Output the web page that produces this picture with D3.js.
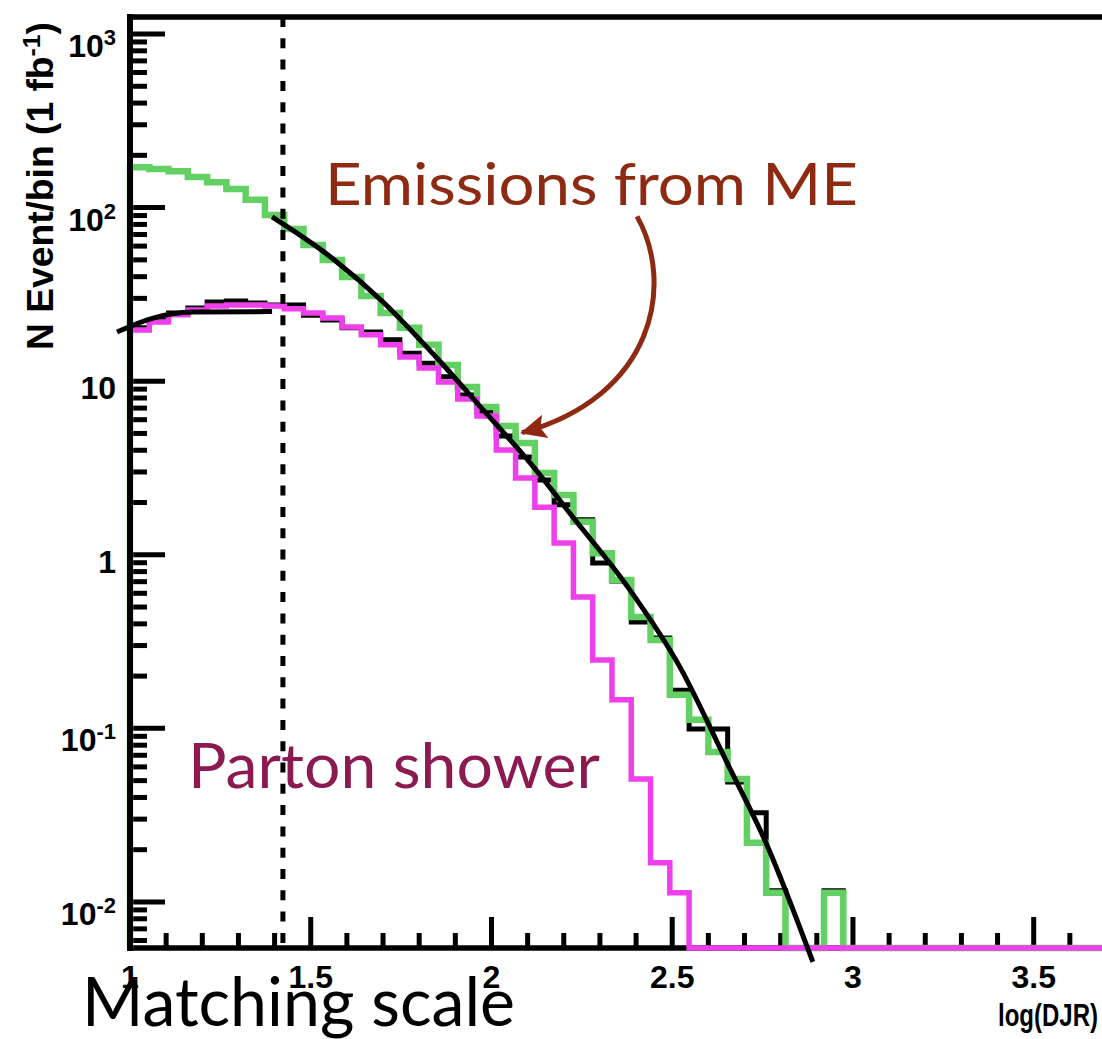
<!DOCTYPE html>
<html>
<head>
<meta charset="utf-8">
<script src="https://cdn.jsdelivr.net/npm/d3@7"></script>
<style>
  body { margin: 0; background: #fff; }
  svg { display: block; }
</style>
</head>
<body>
<script>
// ---- binning of the log(DJR) histograms ----
const binStart = 1.0;
const binWidth = 4 / 75;

// total sample (black histogram), events per bin
const combined = [
  20.3, 22.5, 24.7, 26.4, 28.6, 29.0, 28.2, 27.5, 27.5, 24.0,
  22.5, 20.3, 19.2, 17.3, 14.5, 12.7, 10.6, 8.33, 6.65, 4.83,
  3.66, 2.70, 1.94, 1.59, 0.897, 0.707, 0.410, 0.332, 0.166, 0.0992,
  0.0992, 0.0491, 0.0326, 0.0116, 0, 0, 0.0116, 0, 0, 0,
  0, 0, 0, 0, 0, 0, 0, 0, 0, 0, 0
];

// emissions from the matrix element (green histogram)
const meEmissions = [
  171, 167, 162, 150, 140, 128, 111, 90.7, 75.3, 60.9,
  49.9, 39.8, 31.0, 24.7, 20.3, 16.2, 12.4, 9.26, 7.10, 5.52,
  4.41, 2.96, 2.21, 1.55, 1.02, 0.716, 0.438, 0.323, 0.156, 0.112,
  0.0731, 0.0511, 0.0219, 0.0113, 0, 0, 0.0113, 0, 0, 0,
  0, 0, 0, 0, 0, 0, 0, 0, 0, 0, 0
];

// emissions from the parton shower (magenta histogram)
const partonShower = [
  19.7, 21.9, 24.1, 25.7, 27.1, 27.5, 27.5, 27.1, 26.1, 24.7,
  23.1, 20.5, 18.5, 16.2, 13.8, 11.9, 9.89, 7.90, 6.30, 4.02,
  2.77, 1.88, 1.17, 0.571, 0.248, 0.146, 0.0511, 0.0168, 0.0113, 0,
  0, 0, 0, 0, 0, 0, 0, 0, 0, 0,
  0, 0, 0, 0, 0, 0, 0, 0, 0, 0, 0
];

// smooth curves: [log(DJR), events/bin]
const lowFit = [[0.964, 19.2], [1.064, 23.1], [1.174, 25.0], [1.393, 25.2]];
const highFit = [
  [1.393, 88.3], [1.562, 50.6], [1.700, 28.6], [1.849, 13.6], [1.977, 6.83],
  [2.107, 3.38], [2.225, 1.65], [2.375, 0.661], [2.521, 0.226], [2.652, 0.0632],
  [2.762, 0.0213], [2.889, 0.00451]
];

const matchingScale = 1.423;

// axis ticks and labels
const xMajorTicks = [1, 1.5, 2, 2.5, 3, 3.5];
const xTickLabels = ["1", "1.5", "2", "2.5", "3", "3.5"];
const yDecades = [1e-2, 1e-1, 1, 10, 1e2, 1e3];
const yTickBase = ["10", "10", "1", "10", "10", "10"];
const yTickExp = ["-2", "-1", "", "", "2", "3"];

// annotation arrow, in data coordinates [log(DJR), events/bin]
const arrowPts = [[2.4025, 89.0], [2.5076, 36.4], [2.4523, 8.16], [2.0844, 5.05]];

const W = 1102, H = 1039;
const svg = d3.select("body").append("svg").attr("width", W).attr("height", H);

const x = d3.scaleLinear().domain([1, 3.7]).range([130, 1106]);
const y = d3.scaleLog().domain([0.00543, 1253]).range([948, 17]);
const yFloor = y.domain()[0];
const [plotBottom, plotTop] = y.range();
const plotLeft = x.range()[0];

const axisFont = "'Liberation Sans', Arial, Helvetica, sans-serif";
const annoFont = "Lato, 'Open Sans', sans-serif";

// ---- frame: top and bottom edges (histograms are drawn over the bottom edge) ----
const frame = svg.append("g").attr("stroke", "#000").attr("stroke-width", 5.5).attr("stroke-linecap", "square");
frame.append("line").attr("x1", plotLeft).attr("x2", W + 10).attr("y1", plotTop).attr("y2", plotTop);
frame.append("line").attr("x1", plotLeft).attr("x2", W + 10).attr("y1", plotBottom).attr("y2", plotBottom);

// ---- ticks (pointing into the frame) ----
const ticks = svg.append("g").attr("stroke", "#000").attr("stroke-width", 5);
const xMinor = d3.range(11, 38).map(d => d / 10).filter(v => !xMajorTicks.some(m => Math.abs(m - v) < 1e-9));
ticks.selectAll(".xmaj").data(xMajorTicks).join("line")
  .attr("x1", d => x(d)).attr("x2", d => x(d)).attr("y1", plotBottom).attr("y2", plotBottom - 31);
ticks.selectAll(".xmin").data(xMinor).join("line")
  .attr("x1", d => x(d)).attr("x2", d => x(d)).attr("y1", plotBottom).attr("y2", plotBottom - 15);

const yMinor = [];
for (let e = -3; e <= 3; e++) for (let m = 2; m <= 9; m++) {
  const v = m * Math.pow(10, e);
  if (v > yFloor && v < y.domain()[1]) yMinor.push(v);
}
ticks.selectAll(".ymaj").data(yDecades).join("line")
  .attr("x1", plotLeft).attr("x2", plotLeft + 35).attr("y1", d => y(d)).attr("y2", d => y(d));
ticks.selectAll(".ymin").data(yMinor).join("line")
  .attr("x1", plotLeft).attr("x2", plotLeft + 17).attr("y1", d => y(d)).attr("y2", d => y(d));

// ---- tick labels ----
const yLab = svg.append("g").attr("font-family", axisFont).attr("font-weight", "bold").attr("fill", "#000");
yDecades.forEach((v, i) => {
  const hasExp = yTickExp[i] !== "";
  const t = yLab.append("text")
    .attr("x", 116).attr("y", y(v) + (hasExp ? 23 : 18))
    .attr("text-anchor", "end").attr("font-size", 32);
  t.append("tspan").text(yTickBase[i]);
  if (hasExp) t.append("tspan").attr("font-size", 22).attr("dy", -12).text(yTickExp[i]);
});

const xLab = svg.append("g").attr("font-family", axisFont).attr("font-weight", "bold").attr("fill", "#000");
xLab.selectAll("text").data(xMajorTicks).join("text")
  .attr("x", d => x(d)).attr("y", 988).attr("text-anchor", "middle").attr("font-size", 32)
  .text((d, i) => xTickLabels[i]);
xLab.append("text").attr("x", 1098).attr("y", 1026).attr("text-anchor", "end")
  .attr("font-size", 31).attr("textLength", 100).attr("lengthAdjust", "spacingAndGlyphs")
  .text("log(DJR)");

// y-axis title
const yTitle = svg.append("text")
  .attr("transform", "translate(53,350) rotate(-90)")
  .attr("font-family", axisFont).attr("font-weight", "bold").attr("font-size", 36)
  .attr("textLength", 328).attr("lengthAdjust", "spacingAndGlyphs").attr("fill", "#000");
yTitle.append("tspan").text("N Event/bin (1 fb");
yTitle.append("tspan").attr("font-size", 24).attr("dy", -13).text("-1");
yTitle.append("tspan").attr("dy", 13).text(")");

// ---- histograms ----
function stepPoints(values) {
  const pts = [[binStart, yFloor]];
  values.forEach((v, i) => {
    const lo = binStart + i * binWidth, hi = lo + binWidth;
    const vv = v > 0 ? v : yFloor;
    pts.push([lo, vv], [hi, vv]);
  });
  return pts;
}
const stepLine = d3.line().x(d => x(d[0])).y(d => y(Math.max(d[1], yFloor)));

const hists = svg.append("g").attr("fill", "none").attr("stroke-linejoin", "miter");
hists.append("path").attr("d", stepLine(stepPoints(combined))).attr("stroke", "#000").attr("stroke-width", 5);
hists.append("path").attr("d", stepLine(stepPoints(meEmissions))).attr("stroke", "#62d062").attr("stroke-width", 6.5);
hists.append("path").attr("d", stepLine(stepPoints(partonShower))).attr("stroke", "#ee40ea").attr("stroke-width", 5.5);

// left edge of the frame, over the first histogram edges
svg.append("line").attr("x1", plotLeft).attr("x2", plotLeft).attr("y1", plotTop).attr("y2", plotBottom)
  .attr("stroke", "#000").attr("stroke-width", 6).attr("stroke-linecap", "square");

// ---- smooth curves ----
const fitLine = d3.line().x(d => x(d[0])).y(d => y(d[1])).curve(d3.curveMonotoneX);
const fits = svg.append("g").attr("fill", "none").attr("stroke", "#000").attr("stroke-width", 5);
fits.append("path").attr("d", fitLine(lowFit));
fits.append("path").attr("d", fitLine(highFit));

// ---- annotations ----
const emColor = "#8e2a12";
const psColor = "#8b1a50";

svg.append("text").attr("x", 325).attr("y", 205)
  .attr("font-family", annoFont).attr("font-size", 59).attr("fill", emColor)
  .attr("textLength", 533).attr("lengthAdjust", "spacingAndGlyphs")
  .text("Emissions from ME");

svg.append("text").attr("x", 188).attr("y", 788)
  .attr("font-family", annoFont).attr("font-size", 62).attr("fill", psColor)
  .attr("textLength", 412).attr("lengthAdjust", "spacingAndGlyphs")
  .text("Parton shower");

svg.append("text").attr("x", 82).attr("y", 1026)
  .attr("font-family", annoFont).attr("font-size", 68).attr("fill", "#000")
  .attr("textLength", 433).attr("lengthAdjust", "spacingAndGlyphs")
  .text("Matching scale");

// curved arrow pointing at the ME histogram
const defs = svg.append("defs");
defs.append("marker").attr("id", "head")
  .attr("markerUnits", "userSpaceOnUse").attr("viewBox", "0 0 26 24")
  .attr("refX", 24).attr("refY", 12).attr("markerWidth", 26).attr("markerHeight", 24)
  .attr("orient", "auto")
  .append("path").attr("d", "M0,0 L26,12 L0,24 L5,12 Z").attr("fill", emColor);

const ap = arrowPts.map(d => [x(d[0]), y(d[1])]);
const arrowPath = d3.path();
arrowPath.moveTo(ap[0][0], ap[0][1]);
arrowPath.bezierCurveTo(ap[1][0], ap[1][1], ap[2][0], ap[2][1], ap[3][0], ap[3][1]);
svg.append("path").attr("d", arrowPath.toString())
  .attr("fill", "none").attr("stroke", emColor).attr("stroke-width", 5)
  .attr("marker-end", "url(#head)");

// matching scale
svg.append("line")
  .attr("x1", x(matchingScale)).attr("x2", x(matchingScale))
  .attr("y1", plotTop).attr("y2", plotBottom)
  .attr("stroke", "#000").attr("stroke-width", 5).attr("stroke-dasharray", "10 11.3");
</script>
</body>
</html>
